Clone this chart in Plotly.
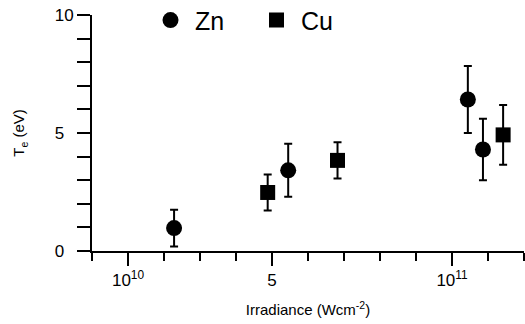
import plotly.graph_objects as go

# Electron temperature vs. laser irradiance for Zn and Cu targets
zn_irradiance = [2.28e10, 5.45e10, 10.44e10, 10.86e10]
zn_te = [0.97, 3.42, 6.42, 4.30]
zn_err = [0.78, 1.12, 1.42, 1.30]

cu_irradiance = [4.88e10, 6.82e10, 11.42e10]
cu_te = [2.48, 3.84, 4.92]
cu_err = [0.76, 0.77, 1.27]

x_major_vals = [1e10, 5e10, 1e11]
x_major_text = ["10<sup>10</sup>", "5", "10<sup>11</sup>"]
y_tick_vals = list(range(0, 11))
y_tick_text = ["0\u2007", "", "", "", "", "5\u2007", "", "", "", "", "10"]

FONT = "Liberation Sans"

fig = go.Figure()
fig.add_trace(go.Scatter(
    x=zn_irradiance, y=zn_te, mode="markers", name="Zn",
    marker=dict(symbol="circle", size=16, color="black"),
    error_y=dict(type="data", array=zn_err, color="black", thickness=2, width=4),
))
fig.add_trace(go.Scatter(
    x=cu_irradiance, y=cu_te, mode="markers", name="Cu",
    marker=dict(symbol="square", size=15, color="black"),
    error_y=dict(type="data", array=cu_err, color="black", thickness=2, width=4),
))

fig.update_layout(
    width=525, height=324,
    margin=dict(l=92, r=1, t=15, b=73, autoexpand=False),
    paper_bgcolor="white", plot_bgcolor="white",
    font=dict(family=FONT, color="black"),
    showlegend=True,
    legend=dict(
        orientation="h", x=0.125, y=1.075, xanchor="left", yanchor="top",
        font=dict(size=25, family=FONT), itemwidth=39, entrywidth=52,
        bgcolor="rgba(0,0,0,0)",
    ),
    xaxis=dict(
        range=[0, 1.2e11], showgrid=False, zeroline=False,
        showline=True, linecolor="black", linewidth=2,
        tickmode="array", tickvals=x_major_vals, ticktext=x_major_text,
        ticks="outside", ticklen=13, tickwidth=2, tickcolor="black",
        tickfont=dict(size=17),
        minor=dict(tickmode="linear", tick0=0, dtick=1e10, ticks="outside",
                   ticklen=8, tickwidth=2, tickcolor="black"),
        title=dict(text="Irradiance (Wcm<sup>-2</sup>)", font=dict(size=15), standoff=15),
    ),
    yaxis=dict(
        range=[0, 10], showgrid=False, zeroline=False,
        showline=True, linecolor="black", linewidth=2,
        tickmode="array", tickvals=y_tick_vals, ticktext=y_tick_text,
        ticks="outside", ticklen=13, tickwidth=2, tickcolor="black",
        tickfont=dict(size=17),
        title=dict(text="T<sub>e</sub> (eV)", font=dict(size=15, color="black"), standoff=26),
    ),
)

fig.write_html("out.html")
